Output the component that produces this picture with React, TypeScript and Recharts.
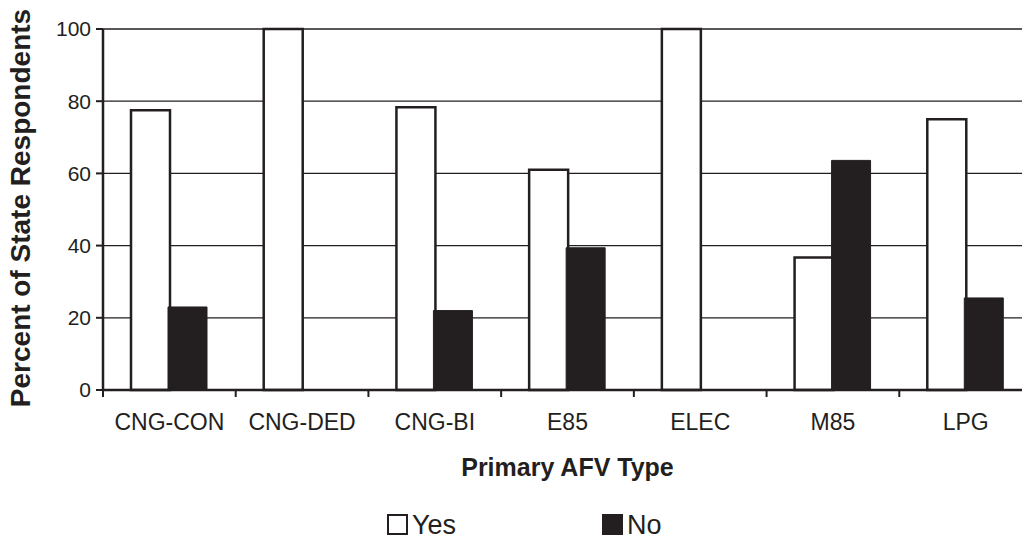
import { BarChart, Bar, XAxis, YAxis, CartesianGrid } from "recharts";

const categories = ["CNG-CON", "CNG-DED", "CNG-BI", "E85", "ELEC", "M85", "LPG"];
const yesValues = [77.5, 100, 78.3, 61, 100, 36.7, 75];
const noValues = [23, 0, 22, 39.4, 0, 63.6, 25.5];
const yTicks = [0, 20, 40, 60, 80, 100];
const seriesNames = ["Yes", "No"];

const data = categories.map((name, i) => ({
  name,
  Yes: yesValues[i],
  No: noValues[i],
}));

const FONT = "'Liberation Sans', Arial, Helvetica, sans-serif";
const INK = "#231f20";
const W = 1022;
const H = 539;
const LEFT = 103;
const RIGHT = -10;
const BAND = (W - LEFT - RIGHT) / categories.length;

const XTick = (props: any) => {
  const { x, y, payload } = props;
  return (
    <g>
      <line x1={x - BAND / 2} x2={x - BAND / 2} y1={y} y2={y + 7} stroke={INK} strokeWidth={2} />
      <text x={x} y={y + 40} textAnchor="middle" fontSize={23} fill={INK} fontFamily={FONT}>
        {payload.value}
      </text>
    </g>
  );
};

const YLabel = () => (
  <text
    x={0}
    y={0}
    transform="translate(30, 208) rotate(-90)"
    textAnchor="middle"
    fontSize={28}
    fontWeight="bold"
    fill={INK}
    fontFamily={FONT}
  >
    Percent of State Respondents
  </text>
);

// legend sits under the axis title, one entry per series
const legendX = [387, 602];

const LegendBox = () => (
  <svg
    width={W}
    height={40}
    style={{ position: "absolute", left: 0, top: H - 40 }}
    fontFamily={FONT}
  >
    {seriesNames.map((name, i) => (
      <g key={name}>
        {i === 0 ? (
          <rect x={legendX[i] + 1} y={16} width={19} height={19} fill="#fff" stroke={INK} strokeWidth={2} />
        ) : (
          <rect x={legendX[i]} y={15} width={21} height={21} fill={INK} />
        )}
        <text x={legendX[i] + 25} y={35} fontSize={27} fill={INK}>
          {name}
        </text>
      </g>
    ))}
  </svg>
);

export default function App() {
  return (
    <div style={{ position: "absolute", left: 0, top: 0, width: W, height: H, background: "#fff", overflow: "hidden" }}>
      <BarChart
        width={W}
        height={H}
        data={data}
        margin={{ top: 29, right: RIGHT, left: 0, bottom: 0 }}
        barSize={39}
        barGap={-2}
      >
        <CartesianGrid vertical={false} stroke={INK} strokeWidth={1.3} />
        <XAxis
          dataKey="name"
          height={149}
          axisLine={{ stroke: INK, strokeWidth: 2.5 }}
          tickLine={false}
          tickSize={0}
          tickMargin={0}
          tick={<XTick />}
          interval={0}
          label={{
            value: "Primary AFV Type",
            position: "insideTop",
            offset: 68,
            fontSize: 25,
            fontWeight: "bold",
            fill: INK,
            fontFamily: FONT,
          }}
        />
        <YAxis
          width={LEFT}
          domain={[0, 100]}
          ticks={yTicks}
          interval={0}
          axisLine={{ stroke: INK, strokeWidth: 2.5 }}
          tickLine={{ stroke: INK, strokeWidth: 2 }}
          tickSize={7}
          tickMargin={5}
          tick={{ fontSize: 21, fill: INK, fontFamily: FONT }}
          label={<YLabel />}
        />
        <Bar dataKey="Yes" fill="#fff" stroke={INK} strokeWidth={2.5} isAnimationActive={false} />
        <Bar dataKey="No" fill={INK} stroke={INK} strokeWidth={1} isAnimationActive={false} />
      </BarChart>
      <LegendBox />
    </div>
  );
}
